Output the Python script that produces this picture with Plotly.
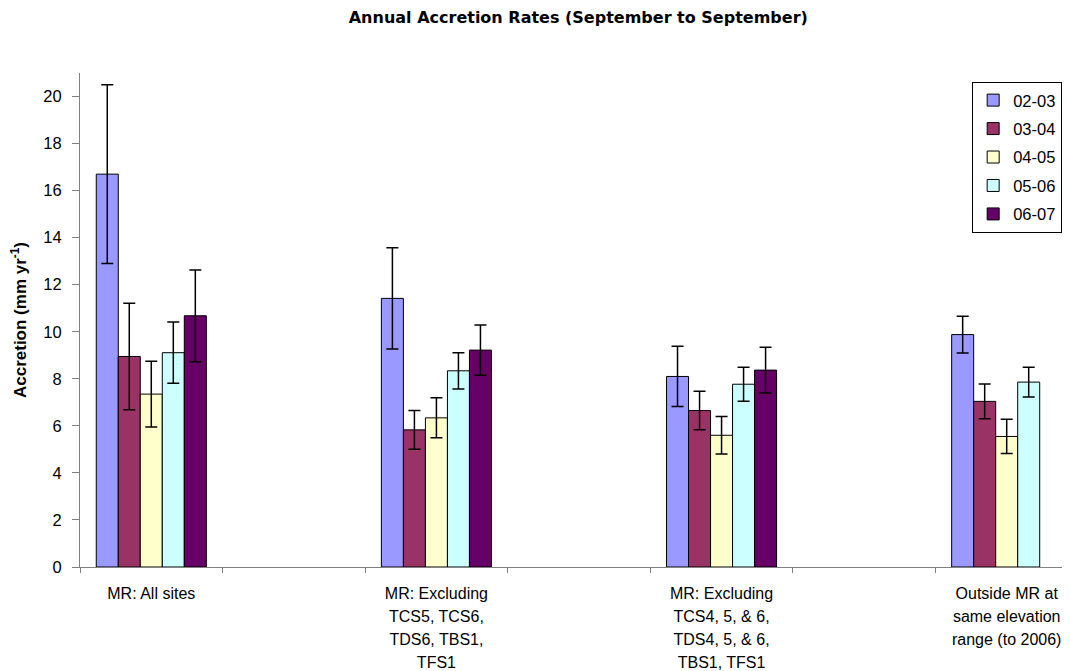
import plotly.graph_objects as go

categories = [
    ["MR: All sites"],
    ["MR: Excluding", "TCS5, TCS6,", "TDS6, TBS1,", "TFS1"],
    ["MR: Excluding", "TCS4, 5, & 6,", "TDS4, 5, & 6,", "TBS1, TFS1"],
    ["Outside MR at", "same elevation", "range (to 2006)"],
]
positions = [0, 2, 4, 6]
series_names = ["02-03", "03-04", "04-05", "05-06", "06-07"]
values = {
    "02-03": [16.7, 11.42, 8.1, 9.88],
    "03-04": [8.95, 5.83, 6.65, 7.04],
    "04-05": [7.35, 6.34, 5.6, 5.55],
    "05-06": [9.11, 8.34, 7.77, 7.86],
    "06-07": [10.68, 9.22, 8.37, None],
}
errors = {
    "02-03": [3.8, 2.15, 1.28, 0.78],
    "03-04": [2.26, 0.82, 0.82, 0.74],
    "04-05": [1.4, 0.85, 0.8, 0.73],
    "05-06": [1.3, 0.77, 0.72, 0.63],
    "06-07": [1.95, 1.07, 0.97, None],
}
colors = {"02-03": "#9999FF", "03-04": "#993366", "04-05": "#FFFFCC",
          "05-06": "#CCFFFF", "06-07": "#660066"}

ticktext = ["<br>".join('<span style="font-size:16px">%s</span>' % ln for ln in lines)
            for lines in categories]

fig = go.Figure()
for s in series_names:
    fig.add_trace(go.Bar(
        x=positions, y=values[s], name=s, legendgroup=s,
        marker=dict(color=colors[s], line=dict(color="black", width=1)),
        error_y=dict(type="data", array=errors[s], visible=True,
                     color="black", thickness=1.5, width=6),
    ))

font = "Liberation Sans, Arial, sans-serif"
wide = "DejaVu Sans, Verdana, sans-serif"
fig.update_layout(
    width=1062, height=663,
    margin=dict(l=72, r=2, t=65, b=104),
    paper_bgcolor="white", plot_bgcolor="white",
    barmode="group", bargap=0.614, bargroupgap=0,
    font=dict(family=font, size=16, color="black"),
    title=dict(text="<b>Annual Accretion Rates (September to September)</b>",
               x=0.537, xanchor="center", y=0.986, yanchor="middle",
               font=dict(family=wide, size=16, color="black")),
    legend=dict(x=0.903, xanchor="left", y=0.982, yanchor="top",
                bordercolor="black", borderwidth=1, bgcolor="white",
                tracegroupgap=4, traceorder="grouped",
                font=dict(family=font, size=16.5, color="black")),
    showlegend=True,
)
fig.update_xaxes(
    range=[-0.5, 6.43], tickvals=positions, ticktext=ticktext,
    ticks="", showline=True, linecolor="#808080", linewidth=1,
    showgrid=False, zeroline=False, tickangle=0, ticklabelstandoff=10,
    automargin=False,
    tickfont=dict(family=font, size=17.7, color="black"),
    minor=dict(tick0=0.5, dtick=1, ticks="outside", ticklen=5,
               tickcolor="#808080", showgrid=False),
)
fig.update_yaxes(
    range=[0, 21], tickvals=list(range(0, 21, 2)),
    ticks="outside", ticklen=7, tickcolor="#808080",
    showline=True, linecolor="#808080", linewidth=1,
    showgrid=False, zeroline=False, ticklabelstandoff=7,
    automargin=False,
    tickfont=dict(family=font, size=16.5, color="black"),
    title=dict(text="<b>Accretion (mm yr<sup>-1</sup>)</b>", standoff=14,
               font=dict(family=font, size=17, color="black")),
)
fig.write_html("out.html")
